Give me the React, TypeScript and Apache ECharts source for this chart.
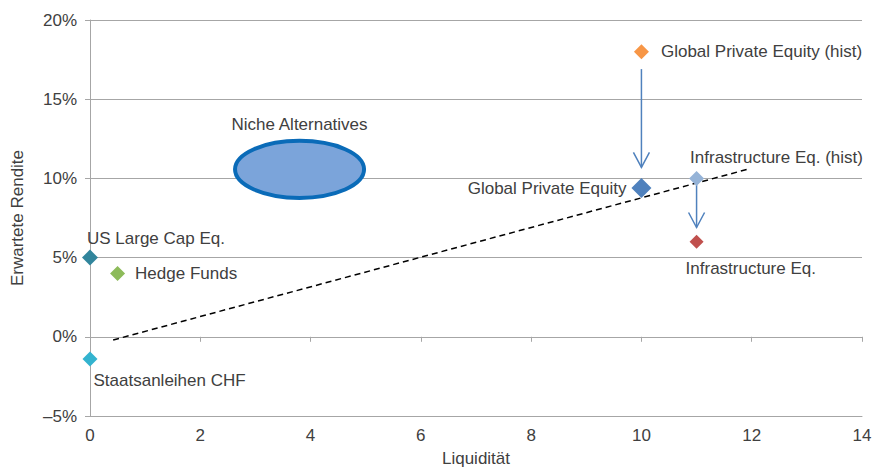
import React, { useEffect, useRef } from "react";
import * as echarts from "echarts";

const pointNames = [
  "US Large Cap Eq.",
  "Hedge Funds",
  "Staatsanleihen CHF",
  "Global Private Equity (hist)",
  "Global Private Equity",
  "Infrastructure Eq. (hist)",
  "Infrastructure Eq.",
];
const pointLiquidity = [0, 0.5, 0, 10, 10, 11, 11];
const pointReturn = [5.0, 4.0, -1.4, 18.0, 9.4, 10.0, 6.0];
const pointColors = ["#31859C", "#8DBB5A", "#33B3CF", "#F79646", "#4F81BD", "#95B3D7", "#C0504D"];
const pointSizes = [16, 15, 15, 15, 20, 15, 14];
const labelPos = ["right", "right", "right", "right", "left", "right", "right"];
const labelOffsets = [[-16, -19], [5, 0], [-9, 22], [7, 0], [0, 1], [-19, -21], [-23, 27]];

// ellipse: centre x, centre y, half width (x units), half height (% units)
const nicheName = "Niche Alternatives";
const nicheEllipse = [3.8, 10.57, 1.17, 1.8];

// arrows: x, from y, to y
const arrows = [
  [10, 16.9, 10.7],
  [11, 9.6, 6.9],
];

// trend line
const trendX = [0.42, 11.95];
const trendY = [-0.2, 10.6];

const xTicks = { min: 0, max: 14, interval: 2 };
const yTicks = { min: -5, max: 20, interval: 5 };

const FONT = "'Liberation Sans', Arial, sans-serif";
const FS = 17;
const TEXT = "#404040";
const GRID = "#A6A6A6";

export default function App() {
  const ref = useRef<HTMLDivElement>(null);
  useEffect(() => {
    if (!ref.current) return;
    document.body.style.margin = "0";
    const chart = echarts.init(ref.current, undefined, { renderer: "svg" });
    const scatterData = pointNames.map((n, i) => ({
      name: n,
      value: [pointLiquidity[i], pointReturn[i]],
      symbolSize: pointSizes[i],
      itemStyle: { color: pointColors[i], opacity: 1 },
      label: {
        show: true,
        formatter: n,
        position: labelPos[i],
        offset: labelOffsets[i],
        color: TEXT,
        fontSize: FS,
        fontFamily: FONT,
      },
    }));
    chart.setOption({
      animation: false,
      textStyle: { fontFamily: FONT },
      grid: { left: 90, right: 15, top: 20, bottom: 51, containLabel: false, outerBoundsMode: "none" },
      xAxis: [
        {
          type: "value",
          min: xTicks.min,
          max: xTicks.max,
          interval: xTicks.interval,
          position: "bottom",
          name: "Liquidität",
          nameLocation: "middle",
          nameGap: 34,
          nameTextStyle: { color: TEXT, fontSize: FS, fontFamily: FONT },
          axisLine: { show: true, onZero: false, lineStyle: { color: GRID, width: 1 } },
          axisTick: { show: false },
          axisLabel: { color: TEXT, fontSize: FS, fontFamily: FONT, margin: 11 },
          splitLine: { show: false },
        },
        {
          type: "value",
          min: xTicks.min,
          max: xTicks.max,
          interval: xTicks.interval,
          position: "bottom",
          axisLine: { show: true, onZero: true, lineStyle: { color: GRID, width: 1 } },
          axisTick: { show: true, length: 5, lineStyle: { color: GRID } },
          axisLabel: { show: false },
          splitLine: { show: false },
        },
      ],
      yAxis: {
        type: "value",
        min: yTicks.min,
        max: yTicks.max,
        interval: yTicks.interval,
        name: "Erwartete Rendite",
        nameLocation: "middle",
        nameGap: 64,
        nameTextStyle: { color: TEXT, fontSize: FS, fontFamily: FONT },
        axisLine: { show: true, lineStyle: { color: GRID, width: 1 } },
        axisTick: { show: true, length: 5, lineStyle: { color: GRID } },
        axisLabel: {
          color: TEXT,
          fontSize: FS,
          fontFamily: FONT,
          margin: 13,
          formatter: (v: number) => (v < 0 ? "\u2013" + Math.abs(v) + "%" : v + "%"),
        },
        splitLine: { show: true, lineStyle: { color: GRID, width: 1 } },
      },
      series: [
        {
          type: "line",
          data: trendX.map((x, i) => [x, trendY[i]]),
          symbol: "none",
          lineStyle: { color: "#000000", width: 1.5, type: [6, 4] },
          z: 3,
        },
        {
          type: "custom",
          data: [nicheEllipse],
          z: 2,
          renderItem: (params: any, api: any) => {
            const c = api.coord([api.value(0), api.value(1)]);
            const e = api.coord([api.value(0) + api.value(2), api.value(1) + api.value(3)]);
            const rx = Math.abs(e[0] - c[0]);
            const ry = Math.abs(c[1] - e[1]);
            return {
              type: "group",
              children: [
                {
                  type: "ellipse",
                  shape: { cx: c[0], cy: c[1], rx, ry },
                  style: { fill: "#7BA4DA", stroke: "#0A6BB8", lineWidth: 4 },
                },
                {
                  type: "text",
                  x: c[0],
                  y: c[1] - ry - 16,
                  style: {
                    text: nicheName,
                    fill: TEXT,
                    fontSize: FS,
                    fontFamily: FONT,
                    align: "center",
                    verticalAlign: "middle",
                  },
                },
              ],
            };
          },
        },
        {
          type: "custom",
          data: arrows,
          z: 4,
          renderItem: (params: any, api: any) => {
            const p1 = api.coord([api.value(0), api.value(1)]);
            const p2 = api.coord([api.value(0), api.value(2)]);
            const stroke = { stroke: "#4F81BD", lineWidth: 1.5, fill: "none" };
            return {
              type: "group",
              children: [
                { type: "line", shape: { x1: p1[0], y1: p1[1], x2: p2[0], y2: p2[1] }, style: stroke },
                {
                  type: "polyline",
                  shape: { points: [[p2[0] - 8, p2[1] - 15], [p2[0], p2[1]], [p2[0] + 8, p2[1] - 15]] },
                  style: stroke,
                },
              ],
            };
          },
        },
        {
          type: "scatter",
          symbol: "diamond",
          data: scatterData,
          z: 5,
        },
      ],
    });
    return () => chart.dispose();
  }, []);
  return <div ref={ref} style={{ width: 877, height: 467 }} />;
}
